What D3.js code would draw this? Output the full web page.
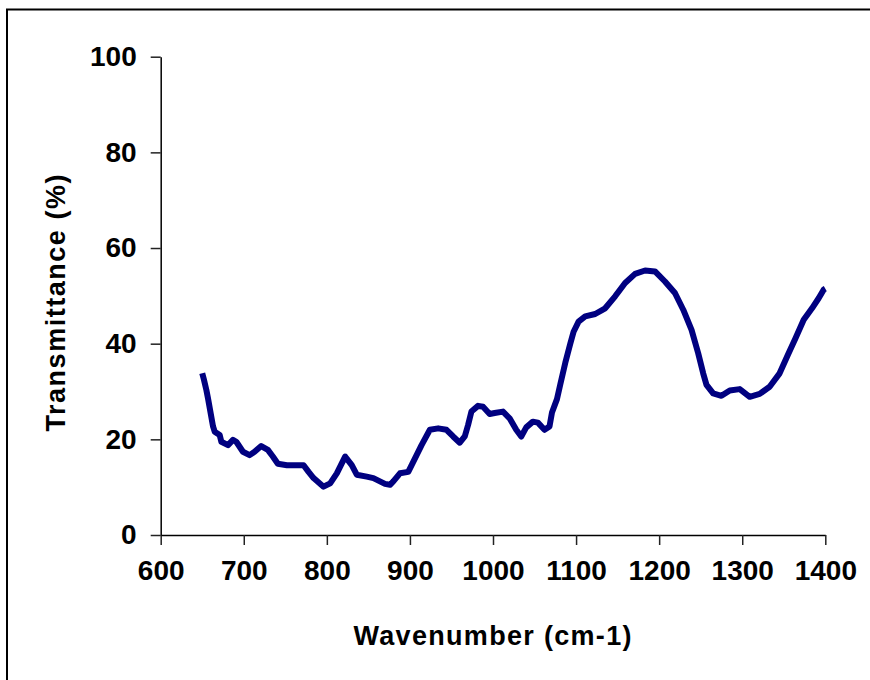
<!DOCTYPE html>
<html>
<head>
<meta charset="utf-8">
<script src="https://cdn.jsdelivr.net/npm/d3@7"></script>
<style>
  body { margin: 0; background: #fff; }
  svg { display: block; }
</style>
</head>
<body>
<div id="chart"></div>
<script>
// spectrum
const wavenumber = [650, 652, 655, 657, 663, 665, 671, 673, 681, 687, 691, 699, 707, 713, 721, 729, 735, 741,
  752, 764, 772, 778, 784, 796, 804, 812, 822, 830, 836, 848, 856, 870, 876, 880, 888, 898, 904, 914, 924,
  934, 944, 952, 960, 966, 970, 974, 982, 988, 996, 1002, 1012, 1020, 1028, 1034, 1040, 1048, 1054, 1062,
  1068, 1071, 1077, 1081, 1087, 1093, 1097, 1103, 1111, 1123, 1135, 1147, 1159, 1171, 1183, 1195, 1207,
  1219, 1229, 1239, 1247, 1253, 1257, 1265, 1275, 1285, 1297, 1309, 1321, 1333, 1345, 1355, 1364, 1374,
  1384, 1392, 1398, 1400];
const transmittance = [33.8, 32.5, 30.3, 28.5, 22.7, 21.6, 20.9, 19.5, 18.8, 19.9, 19.5, 17.4, 16.7, 17.4,
  18.6, 17.8, 16.4, 14.9, 14.6, 14.6, 14.6, 13.2, 11.9, 10.1, 10.8, 12.9, 16.4, 14.6, 12.6, 12.2, 11.9,
  10.7, 10.5, 11.2, 12.9, 13.2, 15.3, 18.8, 22.0, 22.3, 22.0, 20.6, 19.3, 20.6, 23.0, 25.8, 27.0, 26.8,
  25.3, 25.5, 25.8, 24.4, 22.0, 20.6, 22.5, 23.7, 23.5, 22.0, 22.7, 25.6, 28.4, 31.5, 36.0, 40.0, 42.5,
  44.6, 45.7, 46.2, 47.4, 49.9, 52.7, 54.6, 55.3, 55.1, 53.0, 50.6, 47.1, 42.9, 38.0, 33.8, 31.4, 29.6,
  29.1, 30.2, 30.5, 28.9, 29.5, 31.0, 33.8, 37.7, 41.1, 45.0, 47.4, 49.5, 51.3, 51.5];

const xTicks = [600, 700, 800, 900, 1000, 1100, 1200, 1300, 1400];
const yTicks = [0, 20, 40, 60, 80, 100];

const width = 870, height = 680;
const margin = { left: 160.7, right: 44.7, top: 56.7, bottom: 145 };
const font = 'Arial, "Liberation Sans", sans-serif';

const svg = d3.select('#chart')
  .append('svg')
  .attr('width', width)
  .attr('height', height)
  .attr('font-family', font)
  .attr('font-weight', 'bold');

// outer frame
svg.append('rect')
  .attr('x', 7)
  .attr('y', 9.5)
  .attr('width', 900)
  .attr('height', 700)
  .attr('fill', 'none')
  .attr('stroke', '#000')
  .attr('stroke-width', 2);

const x = d3.scaleLinear()
  .domain([600, 1400])
  .range([margin.left, width - margin.right]);
const y = d3.scaleLinear()
  .domain([0, 100])
  .range([height - margin.bottom, margin.top]);

const xAxis = svg.append('g')
  .attr('transform', `translate(0, ${y(0)})`)
  .call(d3.axisBottom(x).tickValues(xTicks).tickFormat(d3.format('d'))
    .tickSize(10).tickPadding(15).tickSizeOuter(0));
const yAxis = svg.append('g')
  .attr('transform', `translate(${x(600)}, 0)`)
  .call(d3.axisLeft(y).tickValues(yTicks).tickFormat(d3.format('d'))
    .tickSize(10).tickPadding(14).tickSizeOuter(0));

[xAxis, yAxis].forEach(g => {
  g.select('.domain').attr('stroke', '#000').attr('stroke-width', 1.5);
  g.selectAll('.tick line').attr('stroke', '#222').attr('stroke-width', 1.5);
  g.selectAll('.tick text')
    .attr('fill', '#000')
    .style('font-family', font)
    .style('font-weight', 'bold')
    .style('font-size', '28px');
});

const line = d3.line()
  .x(d => x(d[0]))
  .y(d => y(d[1]));

svg.append('path')
  .datum(wavenumber.map((w, i) => [w, transmittance[i]]))
  .attr('d', line)
  .attr('fill', 'none')
  .attr('stroke', '#000080')
  .attr('stroke-width', 6)
  .attr('stroke-linejoin', 'round');

svg.append('text')
  .attr('x', 492.5)
  .attr('y', 645)
  .attr('text-anchor', 'middle')
  .attr('font-size', 27)
  .attr('textLength', 278)
  .text('Wavenumber (cm-1)');

svg.append('text')
  .attr('transform', 'translate(65, 303) rotate(-90)')
  .attr('text-anchor', 'middle')
  .attr('font-size', 27)
  .attr('textLength', 257)
  .text('Transmittance (%)');
</script>
</body>
</html>
